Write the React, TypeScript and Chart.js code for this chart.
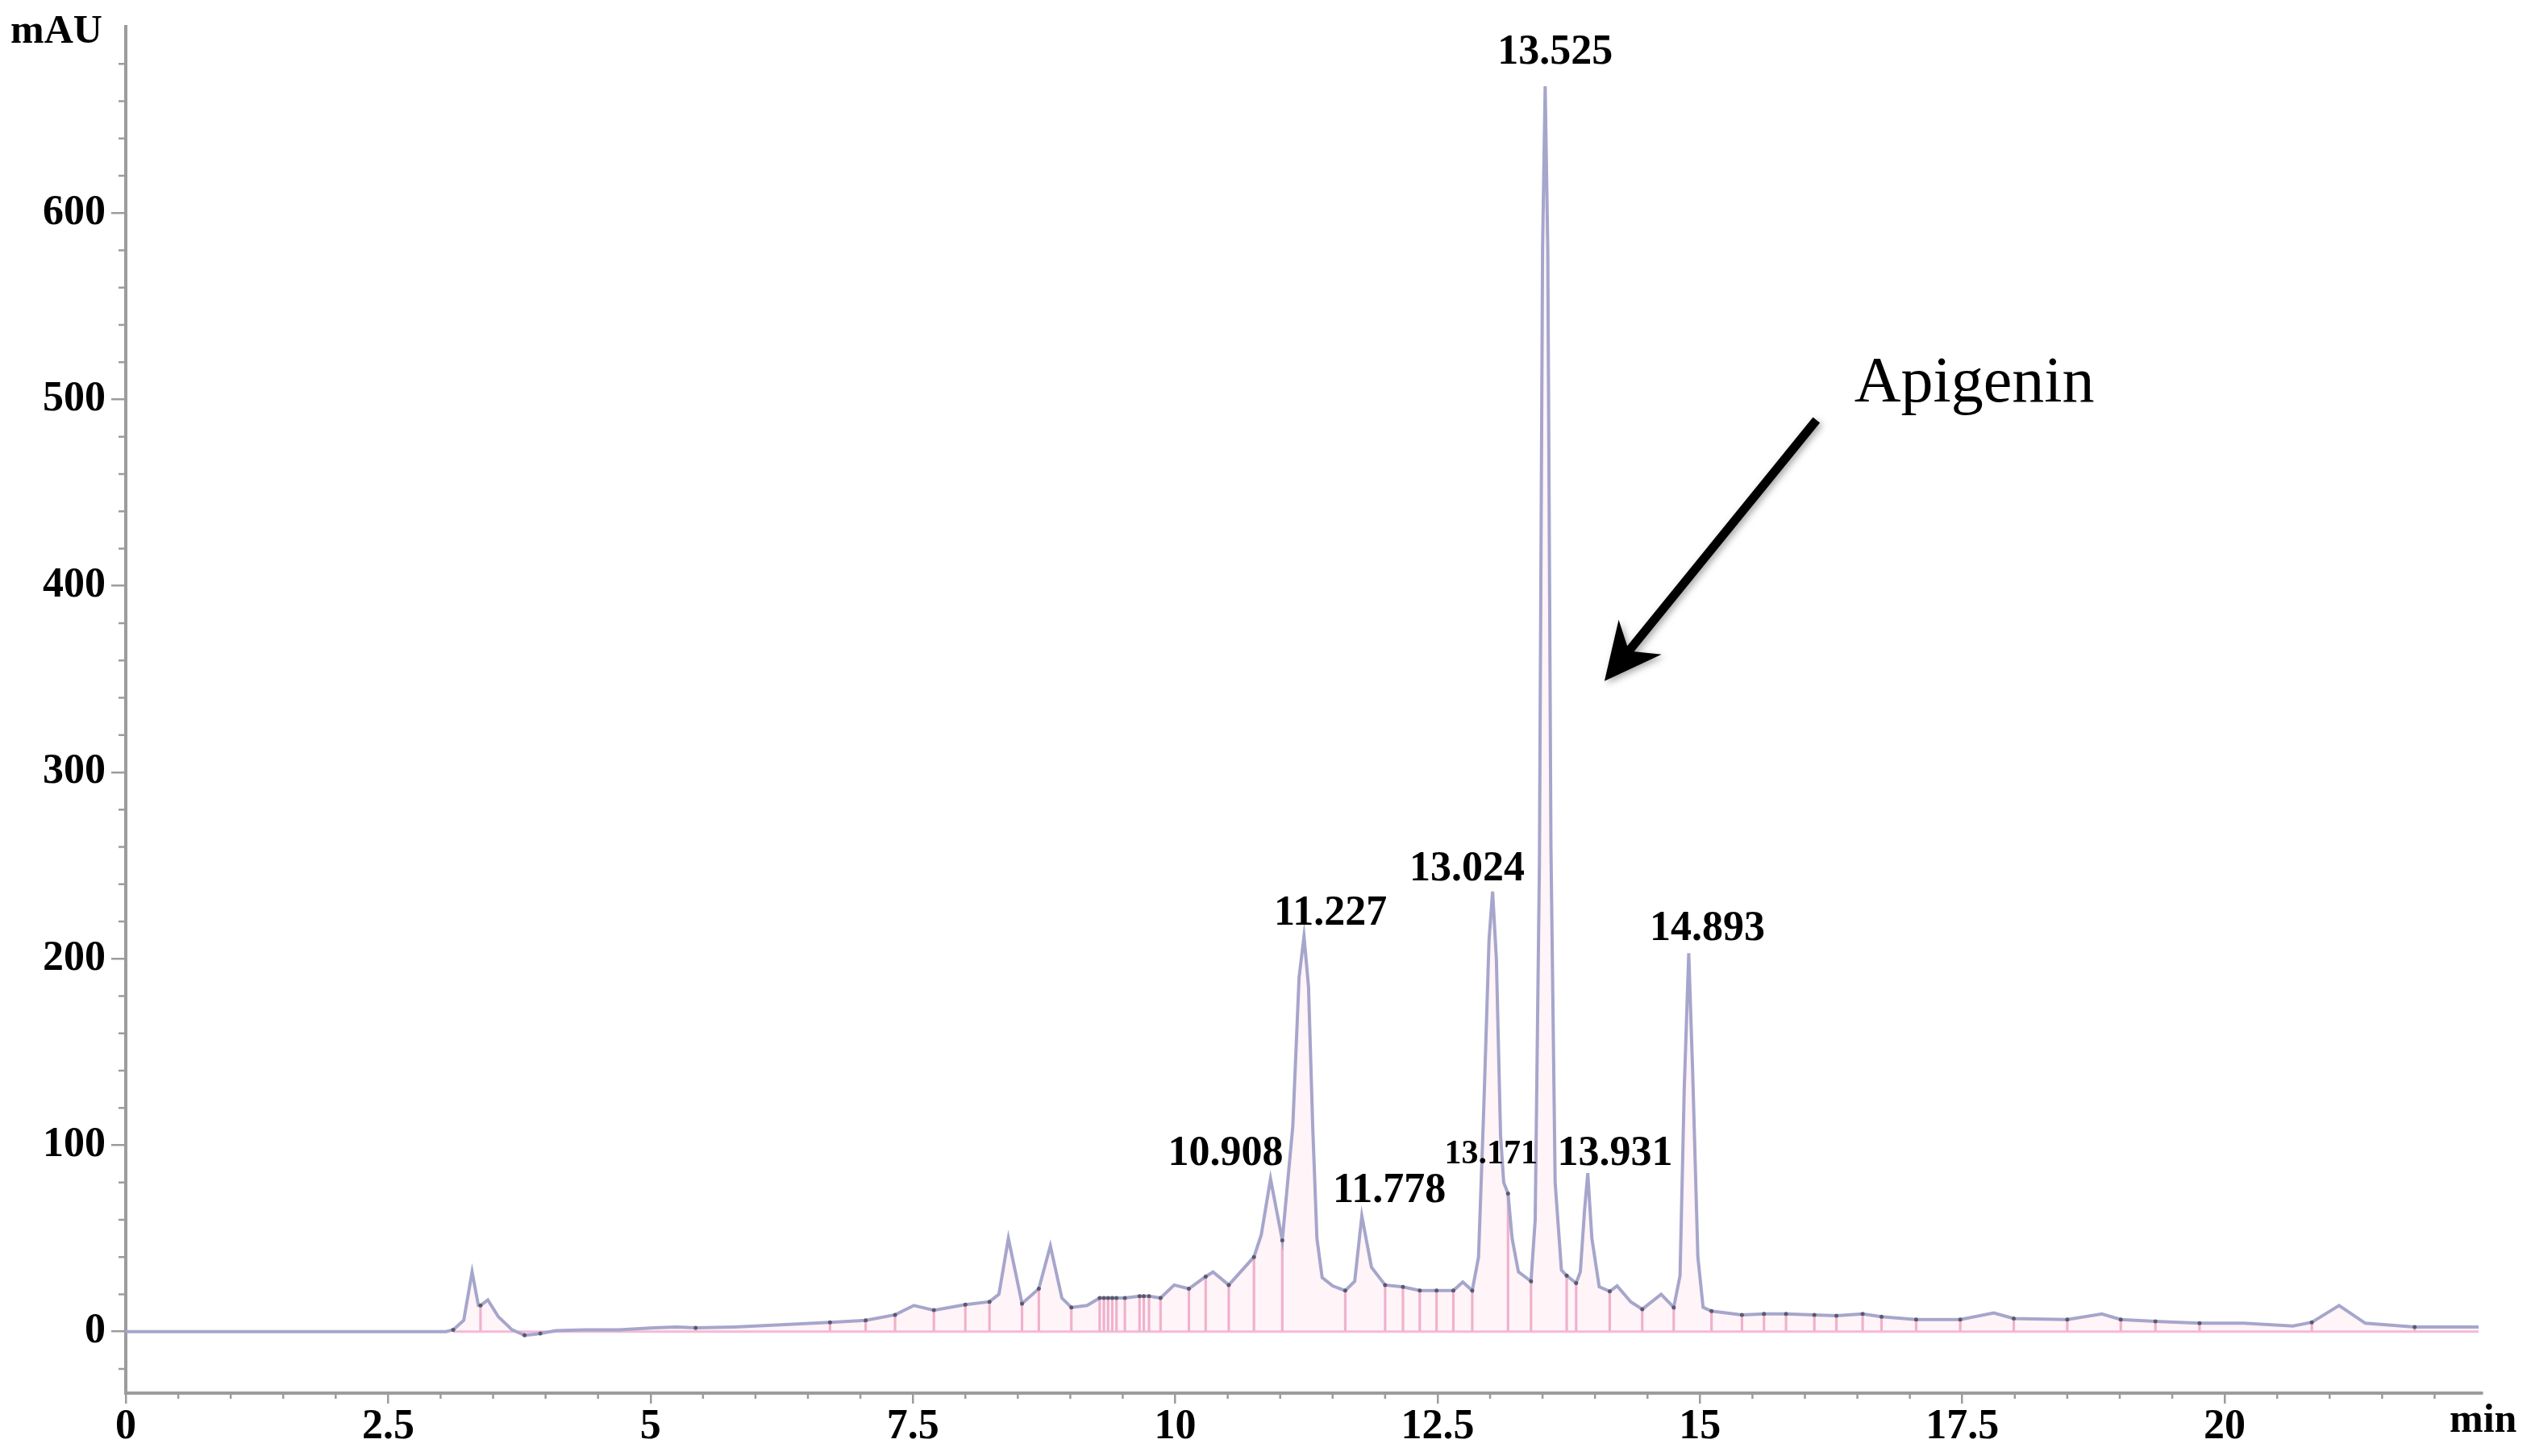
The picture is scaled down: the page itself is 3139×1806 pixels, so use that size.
import React, { useEffect, useRef } from 'react';
import { Chart, registerables } from 'chart.js';

Chart.register(...registerables);

// ---- chromatogram trace (retention time in min, absorbance in mAU) ----
const CURVE_T = [
  0, 3.05, 3.12, 3.22, 3.3, 3.36, 3.38, 3.45, 3.55, 3.68, 3.8, 3.88, 3.95, 4.1, 4.37, 4.7,
  5.03, 5.25, 5.43, 5.8, 6.2, 6.71, 7.05, 7.33, 7.51, 7.7, 8.0, 8.23, 8.32, 8.41, 8.54,
  8.7, 8.81, 8.92, 9.01, 9.16, 9.28, 9.32, 9.36, 9.4, 9.44, 9.52, 9.66, 9.7, 9.75, 9.86,
  9.99, 10.13, 10.29, 10.36, 10.51, 10.75, 10.82, 10.908, 11.02, 11.12, 11.18, 11.227,
  11.27, 11.31, 11.35, 11.4, 11.5, 11.62, 11.71, 11.778, 11.87, 12.0, 12.17, 12.33, 12.49,
  12.65, 12.74, 12.83, 12.89, 12.94, 12.99, 13.024, 13.06, 13.1, 13.13, 13.171, 13.21,
  13.27, 13.39, 13.43, 13.47, 13.5, 13.525, 13.55, 13.58, 13.62, 13.68, 13.73, 13.82,
  13.86, 13.9, 13.931, 13.97, 14.04, 14.14, 14.21, 14.34, 14.45, 14.63, 14.75, 14.81,
  14.85, 14.893, 14.93, 14.98, 15.03, 15.11, 15.4, 15.61, 15.82, 16.09, 16.3, 16.55,
  16.73, 17.06, 17.48, 17.8, 17.99, 18.5, 18.83, 19.01, 19.34, 19.76, 20.18, 20.65,
  20.83, 21.09, 21.34, 21.81, 22.42,
];
const CURVE_MAU = [
  0, 0, 1, 6, 32, 14, 14, 17, 8, 1, -2, -1.5, -1, 0.5, 1, 1,
  2, 2.5, 2, 2.5, 3.5, 5, 6, 9, 14, 11.5, 14.5, 16, 20, 50, 15,
  23, 46, 18, 13, 14, 18, 18, 18, 18, 18, 18, 19, 19, 19, 18,
  25, 23, 29.5, 32, 25, 40, 52, 82, 49, 110, 190, 212,
  185, 110, 50, 29, 24.5, 22, 27, 62, 34.5, 25, 24, 22, 22,
  22, 26.6, 22, 40, 120, 210, 236, 200, 105, 80, 74, 50,
  32, 27, 60, 250, 580, 668, 580, 260, 80, 33, 30, 26,
  32, 65, 85, 50, 24, 21.6, 24.5, 16, 12, 20, 13, 30,
  130, 203, 140, 40, 13, 11, 9, 9.5, 9.5, 9, 8.5, 9.5,
  8, 6.5, 6.5, 10, 7, 6.5, 9.5, 6.5, 5.5, 4.5, 4.5, 3,
  5, 14, 4.5, 2.5, 2.5,
];

// ---- integration drop lines (peak boundaries) ----
const DROP_T = [
  3.12, 3.38, 3.8, 3.95, 5.43, 6.71, 7.05, 7.33, 7.7, 8.0, 8.23, 8.54, 8.7, 9.01,
  9.28, 9.32, 9.36, 9.4, 9.44, 9.52, 9.66, 9.7, 9.75, 9.86, 10.13, 10.29, 10.51, 10.75,
  11.02, 11.62, 12.0, 12.17, 12.33, 12.49, 12.65, 12.83, 13.171, 13.39, 13.73, 13.82,
  14.14, 14.45, 14.75, 15.11, 15.4, 15.61, 15.82, 16.09, 16.3, 16.55, 16.73, 17.06,
  17.48, 17.99, 18.5, 19.01, 19.34, 19.76, 20.83, 21.81,
];
const DROP_MAU = [
  1, 14, -2, -1, 2, 5, 6, 9, 11.5, 14.5, 16, 15, 23, 13,
  18, 18, 18, 18, 18, 18, 19, 19, 19, 18, 23, 29.5, 25, 40,
  49, 22, 25, 24, 22, 22, 22, 22, 74, 27, 30, 26,
  21.6, 12, 13, 11, 9, 9.5, 9.5, 9, 8.5, 9.5, 8, 6.5,
  6.5, 7, 6.5, 6.5, 5.5, 4.5, 5, 2.5,
];

// ---- integration baseline ----
const BASELINE_T = [3.12, 22.42];
const BASELINE_MAU = [0, 0];

// ---- axes ----
const X_TICKS = [0, 2.5, 5, 7.5, 10, 12.5, 15, 17.5, 20];
const X_TICK_LABELS = ['0', '2.5', '5', '7.5', '10', '12.5', '15', '17.5', '20'];
const Y_TICKS = [0, 100, 200, 300, 400, 500, 600];
const Y_TICK_LABELS = ['0', '100', '200', '300', '400', '500', '600'];
const X_MINOR_STEP = 0.5;
const Y_MINOR_STEP = 20;

// ---- peak labels (text, anchor in min / mAU) ----
const PEAK_NAMES = ['10.908', '11.227', '11.778', '13.024', '13.171', '13.525', '13.931', '14.893'];
const PEAK_LABEL_T = [10.48, 11.48, 12.04, 12.78, 13.01, 13.62, 14.19, 15.07];
const PEAK_LABEL_MAU = [95, 224, 75.5, 248, 95, 686, 95, 216];
const PEAK_LABEL_SMALL = [false, false, false, false, true, false, false, false];

// ---- compound annotation ----
const COMPOUND_NAME = 'Apigenin';
const COMPOUND_TEXT_T = 16.47;
const COMPOUND_TEXT_MAU = 499;
const ARROW_FROM = [16.11, 489];
const ARROW_TO = [14.09, 349];

const AXIS_COLOR = '#9c9c9c';
const SERIF = '"Liberation Serif", "Times New Roman", serif';

const overlayPlugin = {
  id: 'overlay',
  afterDraw(chart: any) {
    const { ctx, chartArea } = chart;
    const xs = chart.scales.x;
    const ys = chart.scales.y;
    ctx.save();

    // minor ticks
    ctx.strokeStyle = AXIS_COLOR;
    ctx.lineWidth = 2.5;
    ctx.beginPath();
    for (let v = -Y_MINOR_STEP; v <= ys.max + 0.001; v += Y_MINOR_STEP) {
      if (Math.abs(v % 100) < 1e-6) continue;
      const py = ys.getPixelForValue(v);
      ctx.moveTo(chartArea.left - 9, py);
      ctx.lineTo(chartArea.left, py);
    }
    for (let v = 0; v <= 22 + 0.001; v += X_MINOR_STEP) {
      const r = v / 2.5;
      if (Math.abs(r - Math.round(r)) < 1e-6) continue;
      const px = xs.getPixelForValue(v);
      ctx.moveTo(px, chartArea.bottom);
      ctx.lineTo(px, chartArea.bottom + 7);
    }
    ctx.stroke();

    // peak labels
    ctx.fillStyle = '#000';
    ctx.textAlign = 'center';
    ctx.textBaseline = 'middle';
    PEAK_NAMES.forEach((name, i) => {
      ctx.font = `bold ${PEAK_LABEL_SMALL[i] ? 42 : 52}px ${SERIF}`;
      ctx.fillText(name, xs.getPixelForValue(PEAK_LABEL_T[i]), ys.getPixelForValue(PEAK_LABEL_MAU[i]));
    });

    // compound name
    ctx.font = `80px ${SERIF}`;
    ctx.textAlign = 'left';
    ctx.textBaseline = 'alphabetic';
    ctx.fillText(COMPOUND_NAME, xs.getPixelForValue(COMPOUND_TEXT_T), ys.getPixelForValue(COMPOUND_TEXT_MAU));

    // arrow
    const x0 = xs.getPixelForValue(ARROW_FROM[0]);
    const y0 = ys.getPixelForValue(ARROW_FROM[1]);
    const x1 = xs.getPixelForValue(ARROW_TO[0]);
    const y1 = ys.getPixelForValue(ARROW_TO[1]);
    const ang = Math.atan2(y1 - y0, x1 - x0);
    const headLen = 78;
    const spread = (26 * Math.PI) / 180;
    ctx.shadowColor = 'rgba(0,0,0,0.35)';
    ctx.shadowBlur = 8;
    ctx.shadowOffsetX = 3;
    ctx.shadowOffsetY = 3;
    ctx.strokeStyle = '#000';
    ctx.lineWidth = 11;
    ctx.lineCap = 'butt';
    ctx.beginPath();
    ctx.moveTo(x0, y0);
    ctx.lineTo(x1 - Math.cos(ang) * 40, y1 - Math.sin(ang) * 40);
    ctx.stroke();
    ctx.fillStyle = '#000';
    ctx.beginPath();
    ctx.moveTo(x1, y1);
    ctx.lineTo(x1 - headLen * Math.cos(ang - spread), y1 - headLen * Math.sin(ang - spread));
    ctx.lineTo(x1 - 48 * Math.cos(ang), y1 - 48 * Math.sin(ang));
    ctx.lineTo(x1 - headLen * Math.cos(ang + spread), y1 - headLen * Math.sin(ang + spread));
    ctx.closePath();
    ctx.fill();
    ctx.shadowColor = 'transparent';
    ctx.shadowBlur = 0;
    ctx.shadowOffsetX = 0;
    ctx.shadowOffsetY = 0;

    // axis units
    ctx.fillStyle = '#000';
    ctx.font = `bold 50px ${SERIF}`;
    ctx.textAlign = 'left';
    ctx.textBaseline = 'alphabetic';
    ctx.fillText('mAU', chartArea.left - 143, chartArea.top + 20);
    ctx.fillText('min', chartArea.right - 40, chartArea.bottom + 48);

    ctx.restore();
  },
};

export default function App() {
  const canvasRef = useRef<HTMLCanvasElement | null>(null);

  useEffect(() => {
    const canvas = canvasRef.current;
    if (!canvas) return;

    const curveData = CURVE_T.map((t, i) => ({ x: t, y: CURVE_MAU[i] }));
    const dropData = DROP_T.map((t, i) => ({ x: t, y: DROP_MAU[i] }));
    const baselineData = BASELINE_T.map((t, i) => ({ x: t, y: BASELINE_MAU[i] }));

    const tickFont = { family: SERIF, weight: 'bold' as const, size: 52, lineHeight: 1 };

    const chart = new Chart(canvas, {
      type: 'line',
      data: {
        datasets: [
          {
            type: 'line',
            label: 'markers',
            data: dropData,
            showLine: false,
            pointRadius: 2.5,
            pointBackgroundColor: '#5a5a6e',
            pointBorderWidth: 0,
            order: 0,
          } as any,
          {
            type: 'line',
            label: 'signal',
            data: curveData,
            borderColor: '#a6a6cc',
            borderWidth: 4,
            pointRadius: 0,
            tension: 0,
            fill: { target: 'origin', above: 'rgba(255,200,222,0.20)', below: 'rgba(255,200,222,0.20)' },
            order: 1,
          } as any,
          {
            type: 'line',
            label: 'baseline',
            data: baselineData,
            borderColor: 'rgba(238,165,200,0.75)',
            borderWidth: 3,
            pointRadius: 0,
            fill: false,
            order: 2,
          } as any,
          {
            type: 'bar',
            label: 'drops',
            data: dropData,
            backgroundColor: 'rgba(232,140,180,0.65)',
            borderWidth: 0,
            barThickness: 2.5,
            order: 3,
          } as any,
        ],
      },
      options: {
        animation: false,
        responsive: false,
        devicePixelRatio: 1,
        layout: { padding: { top: 30, right: 61, left: 0, bottom: 0 } },
        plugins: {
          legend: { display: false },
          tooltip: { enabled: false },
          filler: { drawTime: 'beforeDatasetsDraw' },
        } as any,
        scales: {
          x: {
            type: 'linear',
            min: 0,
            max: 22.45,
            offset: false,
            afterBuildTicks: (s: any) => {
              s.ticks = X_TICKS.map((v) => ({ value: v }));
            },
            afterFit: (s: any) => {
              s.height = 78;
            },
            ticks: {
              autoSkip: false,
              maxRotation: 0,
              padding: 4,
              color: '#000',
              font: tickFont,
              callback: (v: any) => X_TICK_LABELS[X_TICKS.indexOf(Number(v))] ?? '',
            },
            grid: {
              drawOnChartArea: false,
              drawTicks: true,
              tickLength: 13,
              color: AXIS_COLOR,
              lineWidth: 2.5,
              offset: false,
            },
            border: { display: true, color: AXIS_COLOR, width: 4 },
          },
          y: {
            type: 'linear',
            min: -33,
            max: 700,
            afterBuildTicks: (s: any) => {
              s.ticks = Y_TICKS.map((v) => ({ value: v }));
            },
            afterFit: (s: any) => {
              s.width = 156;
            },
            ticks: {
              padding: 7,
              color: '#000',
              font: tickFont,
              callback: (v: any) => Y_TICK_LABELS[Y_TICKS.indexOf(Number(v))] ?? '',
            },
            grid: {
              drawOnChartArea: false,
              drawTicks: true,
              tickLength: 18,
              color: AXIS_COLOR,
              lineWidth: 2.5,
            },
            border: { display: true, color: AXIS_COLOR, width: 4 },
          },
        },
      } as any,
      plugins: [overlayPlugin],
    });

    return () => {
      chart.destroy();
    };
  }, []);

  return (
    <div style={{ position: 'absolute', left: 0, top: 0, width: 3139, height: 1806, background: '#fff' }}>
      <canvas ref={canvasRef} width={3139} height={1806} style={{ width: 3139, height: 1806, display: 'block' }} />
    </div>
  );
}
